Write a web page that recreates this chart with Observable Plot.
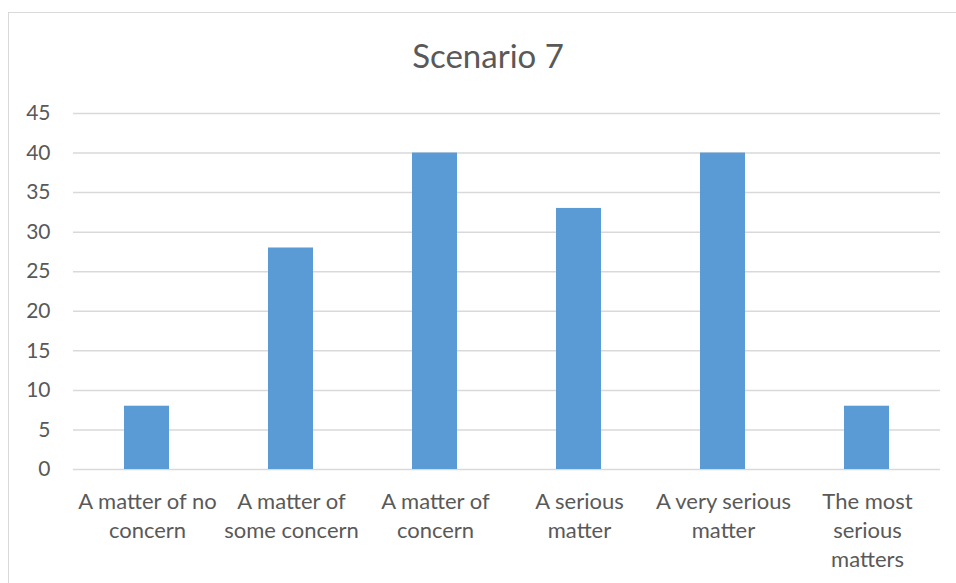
<!DOCTYPE html>
<html>
<head>
<meta charset="utf-8">
<script src="https://cdn.jsdelivr.net/npm/d3@7"></script>
<script src="https://cdn.jsdelivr.net/npm/@observablehq/plot@0.6"></script>
<style>
  html, body { margin: 0; padding: 0; background: #fff; }
  #wrap { position: relative; width: 956px; height: 583px; overflow: hidden; font-family: Lato, "Open Sans", sans-serif; }
  #frame { position: absolute; left: 8px; top: 12px; width: 1000px; height: 700px; border: 1.5px solid #d9d9d9; box-sizing: border-box; }
  #title { position: absolute; left: 0; width: 976px; top: 35px; text-align: center; font-size: 33px; color: #595959; }
  #chart { position: absolute; left: 0; top: 0; }
</style>
</head>
<body>
<div id="wrap">
  <div id="frame"></div>
  <div id="title">Scenario 7</div>
  <div id="chart"></div>
</div>
<script>
const categories = [
  "A matter of no concern",
  "A matter of some concern",
  "A matter of concern",
  "A serious matter",
  "A very serious matter",
  "The most serious matters"
];
const tickLabels = [
  "A matter of no\nconcern",
  "A matter of\nsome concern",
  "A matter of\nconcern",
  "A serious\nmatter",
  "A very serious\nmatter",
  "The most\nserious\nmatters"
];
const values = [8, 28, 40, 33, 40, 8];
const yTicks = [0, 5, 10, 15, 20, 25, 30, 35, 40, 45];

const data = categories.map((c, i) => ({category: c, value: values[i]}));
const labelOf = new Map(categories.map((c, i) => [c, tickLabels[i]]));

const chart = Plot.plot({
  width: 956,
  height: 583,
  marginLeft: 73,
  marginRight: 16,
  marginTop: 113,
  marginBottom: 114,
  style: {fontFamily: "Lato, 'Open Sans', sans-serif", color: "#595959", background: "transparent"},
  x: {domain: categories, padding: 0, label: null},
  y: {domain: [0, 45], label: null},
  marks: [
    Plot.gridY(yTicks, {stroke: "#d9d9d9", strokeOpacity: 1, strokeWidth: 1.5}),
    Plot.barY(data, {x: "category", y: "value", fill: "#5b9bd5", insetLeft: 49, insetRight: 50}),
    Plot.axisY({ticks: yTicks, tickSize: 0, tickPadding: 23, fontSize: 21, fill: "#595959", label: null}),
    Plot.axisX({tickSize: 0, tickPadding: 19, fontSize: 22, lineHeight: 1.32, fill: "#595959", label: null,
      tickFormat: d => labelOf.get(d)})
  ]
});
document.getElementById("chart").appendChild(chart);
</script>
</body>
</html>
